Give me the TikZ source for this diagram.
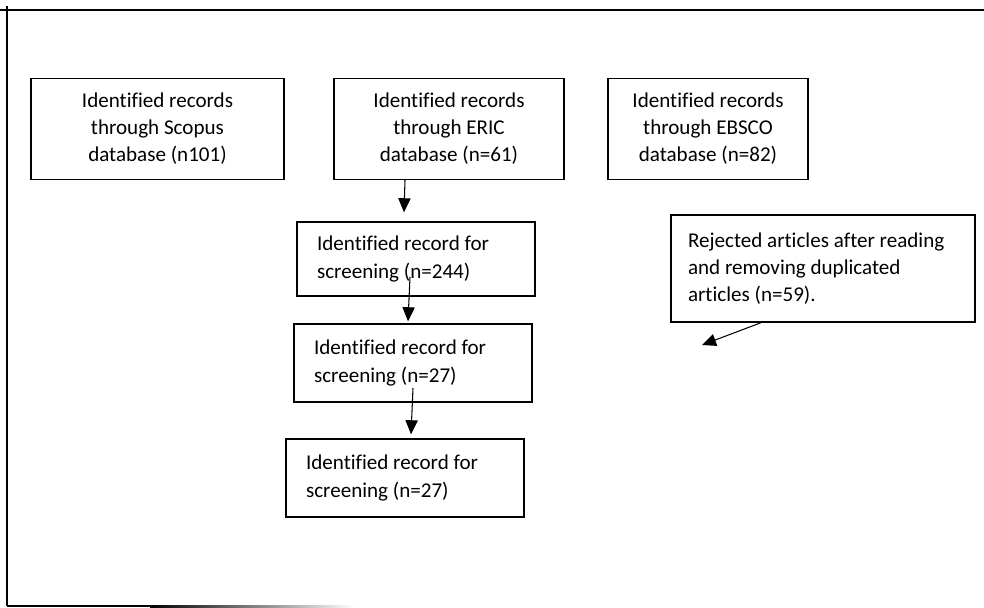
\documentclass[tikz,border=0pt]{standalone}
\usepackage{fontspec}
\setmainfont{Carlito}[Ligatures=NoCommon]
\usetikzlibrary{arrows.meta}

\begin{document}
\begin{tikzpicture}[x=0.02cm, y=-0.02cm,
    srcbox/.style={draw, line width=0.8pt, align=center, minimum height=2.02cm, inner sep=2pt},
    stagebox/.style={draw, line width=0.8pt, align=flush left, text width=3.96cm, inner xsep=0.4cm},
    pile/.style={line width=0.6pt, -{Triangle[length=8pt,width=7pt]}},
    frame line/.style={line width=1pt},
    every node/.style={font=\fontsize{12}{15.4}\selectfont}
    ]

\useasboundingbox (0,0) rectangle (984,608);

\draw[frame line] (0,10) -- (984,10);
\draw[frame line] (7,6) -- (7,606);
\fill[black] (7,605) rectangle (150,607);
\shade[left color=black, right color=white] (150,605) rectangle (355,607);

\node[srcbox, minimum width=5.06cm] (scopus) at (157.5,129)
    {Identified records\\through Scopus\\database (n101)};

\node[srcbox, minimum width=4.6cm] (eric) at (449,129)
    {Identified records\\through ERIC\\database (n=61)};

\node[srcbox, minimum width=4.0cm] (ebsco) at (708,129)
    {Identified records\\through EBSCO\\database (n=82)};

\node[stagebox, minimum height=1.48cm] (screen1) at (416,259)
    {Identified record for\\screening (n=244)};

\node[stagebox, minimum height=1.56cm] (screen2) at (413,363)
    {Identified record for\\screening (n=27)};

\node[stagebox, minimum height=1.56cm] (screen3) at (405,478)
    {Identified record for\\screening (n=27)};

\node[stagebox, text width=5.4cm, inner xsep=0.34cm, minimum height=2.14cm] (rejected) at (823,268.5)
    {Rejected articles after reading\\and removing duplicated\\articles (n=59).};

\coordinate (lost) at (702,345);

\draw[pile] ([xshift=-0.88cm]eric.south) -- ([xshift=-0.24cm,yshift=0.18cm]screen1.north);

\draw[pile] ([xshift=-0.12cm,yshift=-0.36cm]screen1.center) -- ([xshift=-0.1cm,yshift=0.04cm]screen2.north);

\draw[pile] ([yshift=-0.5cm]screen2.center) -- ([xshift=0.12cm,yshift=0.08cm]screen3.north);

\draw[pile] ([xshift=-1.24cm]rejected.south) -- (lost);

\end{tikzpicture}
\end{document}
